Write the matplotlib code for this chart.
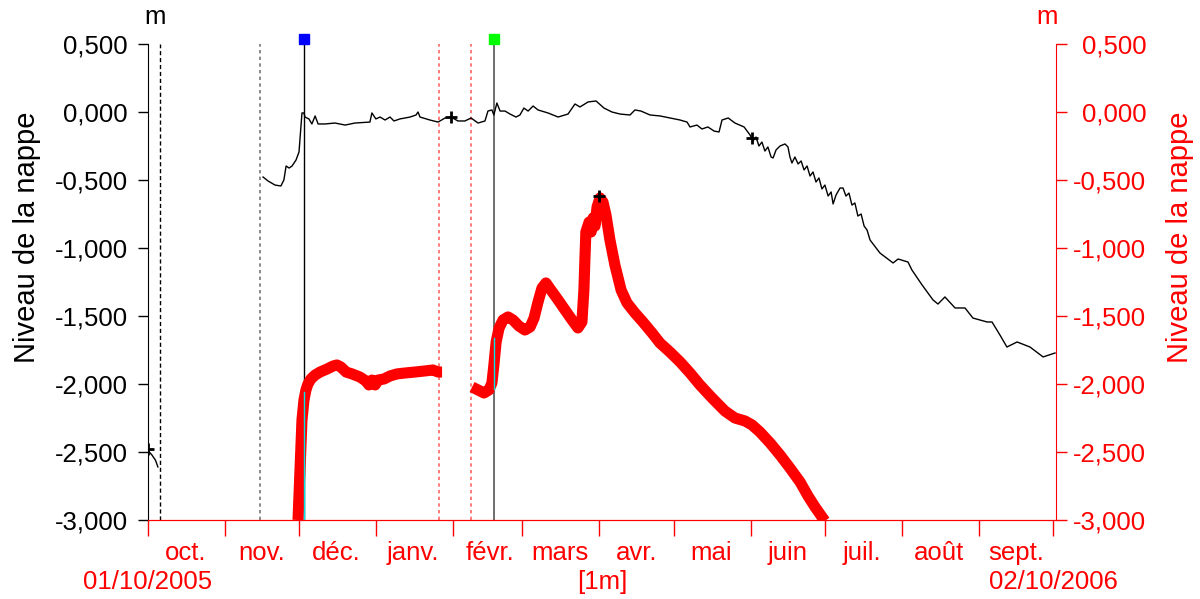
import datetime as dt
import matplotlib
matplotlib.use("Agg")
import matplotlib.pyplot as plt
import matplotlib.dates as mdates
from matplotlib.ticker import FuncFormatter, FixedLocator

plt.rcParams['font.family'] = ['Liberation Sans', 'DejaVu Sans']

start = dt.datetime(2005, 10, 1)

# piezometre 1 (axe gauche) : jours depuis le 01/10/2005, niveau en m
p1a_days = [0, 1.5, 3, 4]
p1a_level = [-2.49, -2.52, -2.56, -2.61]

p1b_days = [46.4, 48.4, 51.2, 53.6, 54.8, 55.7, 56.9, 58.1, 59.7, 60.9, 61.7, 62.1, 62.9,
            63.3, 64.9, 66.1, 67.4, 68.6, 71.4, 75.4, 79.5, 83.5, 89.5, 90.3, 91.9, 93.6,
            95.6, 97.6, 99.2, 101.6, 105.7, 108.1, 108.9, 109.7, 113.7, 117.0, 119.8, 122.2,
            125.0, 127.8, 130.3, 133.1, 135.9, 137.1, 138.7, 139.5, 140.7, 142.0, 144.0,
            146.0, 148.4, 150.0, 151.6, 153.3, 155.3, 157.3, 161.3, 165.4, 169.4, 172.2,
            174.2, 177.5, 180.7, 183.9, 187.1, 190.4, 194.4, 196.4, 198.8, 202.5, 206.5,
            210.5, 214.6, 217.4, 218.6, 221.4, 223.4, 225.8, 228.3, 230.3, 231.5, 234.0,
            236.7, 240.4, 242.8, 244.0, 245.2, 246.4, 247.6, 248.8, 250.0, 251.3, 252.1,
            253.3, 254.9, 256.9, 258.1, 258.9, 259.7, 260.9, 262.2, 263.4, 264.6, 265.8,
            267.0, 268.2, 269.4, 270.6, 271.8, 273.0, 274.3, 275.5, 276.3, 277.5, 279.1,
            280.3, 281.5, 282.7, 283.9, 285.1, 286.3, 287.6, 288.8, 290.0, 291.2, 295.2,
            300.5, 302.5, 306.5, 308.1, 312.2, 316.6, 318.6, 321.4, 325.5, 329.5, 332.7,
            338.4, 340.4, 343.6, 346.4, 350.5, 355.7, 361.0, 365.8]
p1b_level = [-0.478, -0.507, -0.537, -0.544, -0.50, -0.397, -0.412, -0.397, -0.353, -0.294,
             -0.096, -0.007, -0.007, -0.037, -0.051, -0.088, -0.029, -0.088, -0.088, -0.081,
             -0.096, -0.081, -0.074, -0.007, -0.051, -0.037, -0.059, -0.037, -0.066, -0.051,
             -0.037, -0.022, 0.000, -0.037, -0.059, -0.074, -0.044, -0.037, -0.066, -0.066,
             -0.044, -0.081, -0.066, 0.007, 0.015, -0.022, 0.066, 0.007, 0.007, -0.015,
             -0.037, -0.022, 0.029, 0.007, 0.044, 0.015, -0.007, -0.037, -0.015, 0.059,
             0.037, 0.074, 0.081, 0.029, 0.000, -0.015, -0.022, 0.015, 0.007, -0.022, -0.029,
             -0.044, -0.059, -0.074, -0.110, -0.096, -0.125, -0.110, -0.140, -0.147, -0.059,
             -0.044, -0.081, -0.110, -0.169, -0.213, -0.184, -0.250, -0.221, -0.287, -0.257,
             -0.331, -0.338, -0.279, -0.250, -0.235, -0.257, -0.331, -0.375, -0.331, -0.382,
             -0.360, -0.426, -0.397, -0.471, -0.441, -0.515, -0.485, -0.566, -0.537, -0.618,
             -0.588, -0.676, -0.610, -0.559, -0.559, -0.618, -0.596, -0.684, -0.669, -0.765,
             -0.750, -0.838, -0.868, -0.941, -1.037, -1.110, -1.081, -1.103, -1.162, -1.272,
             -1.382, -1.412, -1.360, -1.441, -1.441, -1.515, -1.544, -1.544, -1.640, -1.728,
             -1.691, -1.728, -1.801, -1.772]

# piezometre 2 (axe droit)
p2a_days = [60.5, 60.9, 61.3, 61.7, 62.1, 62.9, 63.7, 64.5, 65.7, 67.4, 69.4, 72.2, 74.6,
            76.2, 77.8, 79.9, 82.3, 85.5, 87.9, 89.1, 90.3, 91.6, 92.8, 95.2, 97.6, 100.4,
            103.7, 107.7, 111.7, 114.9, 117.0, 118.6]
p2a_level = [-3.0, -2.816, -2.632, -2.449, -2.265, -2.118, -2.044, -2.0, -1.963, -1.934,
             -1.912, -1.890, -1.868, -1.860, -1.875, -1.912, -1.926, -1.949, -1.978, -2.007,
             -1.971, -2.007, -1.971, -1.963, -1.941, -1.926, -1.919, -1.912, -1.904, -1.897,
             -1.912, -1.912]

p2b_days = [130.7, 133.1, 135.5, 137.5, 138.7, 139.5, 140.4, 141.6, 143.2, 145.2, 147.2,
            149.6, 152.0, 154.1, 155.7, 157.3, 158.9, 160.5, 162.5, 165.4, 168.2, 171.0,
            173.4, 175.0, 175.8, 176.2, 176.6, 177.9, 178.7, 179.5, 180.3, 181.1, 182.3,
            183.5, 184.7, 186.3, 188.3, 190.8, 193.2, 196.4, 199.6, 203.3, 206.5, 210.5,
            214.6, 218.6, 222.6, 227.5, 232.7, 236.7, 240.8, 243.6, 246.8, 250.9, 254.9,
            258.9, 263.0, 266.2, 269.0, 271.0, 273.0]
p2b_level = [-2.022, -2.044, -2.066, -2.044, -1.993, -1.860, -1.691, -1.588, -1.529, -1.507,
             -1.529, -1.574, -1.603, -1.581, -1.515, -1.397, -1.294, -1.257, -1.309, -1.382,
             -1.456, -1.529, -1.588, -1.544, -1.309, -1.088, -0.882, -0.809, -0.882, -0.779,
             -0.838, -0.699, -0.632, -0.662, -0.757, -0.941, -1.125, -1.309, -1.404, -1.478,
             -1.544, -1.625, -1.699, -1.765, -1.838, -1.919, -2.007, -2.103, -2.199, -2.250,
             -2.272, -2.301, -2.353, -2.434, -2.522, -2.618, -2.721, -2.824, -2.904, -2.956,
             -3.007]

# reperes verticaux (jours)
gap_black_day = 5.0
gap_gray_day = 45.2
gap_red_days = [117.4, 130.3]
event_blue_day = 62.9
event_green_day = 139.5

# points marques (+)
cross_days = [0, 122.2, 243.5, 182.0]
cross_level = [-2.48, -0.037, -0.19, -0.62]

months = ['oct.', 'nov.', 'déc.', 'janv.', 'févr.', 'mars', 'avr.', 'mai', 'juin',
          'juil.', 'août', 'sept.']
yticks = [0.5, 0.0, -0.5, -1.0, -1.5, -2.0, -2.5, -3.0]


def to_dates(days):
    return [start + dt.timedelta(days=d) for d in days]


def fr_fmt(v, pos):
    s = f"{v:.3f}".replace('.', ',')
    if s == "-0,000":
        s = "0,000"
    return s


fig = plt.figure(figsize=(12, 5.99), dpi=100)
ax = fig.add_axes([148 / 1200, 79 / 599, 908 / 1200, 476 / 599])
ax2 = ax.twinx()

x0 = start
x1 = start + dt.timedelta(days=366.2)
for a in (ax, ax2):
    a.set_xlim(x0, x1)
    a.set_ylim(-3.0, 0.5)

red = '#ff0000'
fs = 18.5
fs_lab = 21

# lignes verticales
ax.axvline(to_dates([gap_black_day])[0], color='black', lw=1, ls=(0, (3, 2)))
ax.axvline(to_dates([gap_gray_day])[0], color='#777777', lw=1.2, ls=(0, (2, 2)))
for d in gap_red_days:
    ax.axvline(to_dates([d])[0], color='#ff6666', lw=1.2, ls=(0, (2, 2)))
ax.axvline(to_dates([event_blue_day])[0], color='black', lw=1)
ax.axvline(to_dates([event_green_day])[0], color='#555555', lw=1.2)
ax.plot(to_dates([event_blue_day]), [0.537], 's', color='#0000ff', ms=7, clip_on=False)
ax.plot(to_dates([event_green_day]), [0.537], 's', color='#00ff00', ms=7, clip_on=False)

# courbe noire
ax.plot(to_dates(p1a_days), p1a_level, color='black', lw=1)
ax.plot(to_dates(p1b_days), p1b_level, color='black', lw=1)

# courbe rouge epaisse
ax2.plot(to_dates(p2a_days), p2a_level, color=red, lw=8, solid_capstyle='butt')
ax2.plot(to_dates(p2b_days), p2b_level, color=red, lw=8, solid_capstyle='butt')
ax2.plot(to_dates([event_blue_day, event_blue_day]), [-2.06, -3.0], color='#00e5e5', lw=1)
ax2.plot(to_dates([event_green_day, event_green_day]), [-1.66, -2.04], color='#00e5e5', lw=1)

ax2.plot(to_dates(cross_days), cross_level, '+', color='black', ms=9, mew=2, ls='none')

# axes
for a in (ax, ax2):
    a.spines['top'].set_visible(False)
ax.spines['left'].set_color('black')
ax.spines['right'].set_visible(False)
ax2.spines['left'].set_visible(False)
ax2.spines['right'].set_color(red)
ax2.spines['bottom'].set_color(red)
ax.spines['bottom'].set_color(red)

ax.yaxis.set_major_locator(FixedLocator(yticks))
ax.yaxis.set_major_formatter(FuncFormatter(fr_fmt))
ax.tick_params(axis='y', direction='out', length=7.5, width=1, colors='black',
               labelsize=fs, pad=7)
ax2.yaxis.set_major_locator(FixedLocator(yticks))
ax2.yaxis.set_major_formatter(FuncFormatter(fr_fmt))
ax2.tick_params(axis='y', direction='out', length=8, width=1, colors=red,
                labelsize=fs, pad=57)
for lab in ax2.get_yticklabels():
    lab.set_horizontalalignment('right')

month_starts = [dt.datetime(2005 + (9 + i) // 12, (9 + i) % 12 + 1, 1) for i in range(13)]
month_mids = [m + dt.timedelta(days=15) for m in month_starts[:-1]]
ax.xaxis.set_major_locator(FixedLocator(mdates.date2num(month_starts)))
ax.xaxis.set_major_formatter(FuncFormatter(lambda v, p: ''))
ax.xaxis.set_minor_locator(FixedLocator(mdates.date2num(month_mids)))
ax.xaxis.set_minor_formatter(FuncFormatter(lambda v, p: months[p] if p < len(months) else ''))
ax.tick_params(axis='x', which='major', direction='out', length=11.5, width=1, colors=red)
ax.tick_params(axis='x', which='minor', length=0, colors=red, labelsize=fs, pad=15)
ax2.tick_params(axis='x', which='both', length=0, labelbottom=False)

# titres des axes verticaux
label_y = 1 - 237 / 599
ax.set_ylabel('Niveau de la nappe', fontsize=fs_lab, color='black', va='center')
ax.yaxis.set_label_coords(27 / 1200, label_y, transform=fig.transFigure)
ax2.set_ylabel('Niveau de la nappe', fontsize=fs_lab, color=red, rotation=90, va='center')
ax2.yaxis.set_label_coords(1180 / 1200, label_y, transform=fig.transFigure)

fig.text(155 / 1200, 1 - 17 / 599, 'm', fontsize=fs, color='black', ha='center', va='center')
fig.text(1047 / 1200, 1 - 17 / 599, 'm', fontsize=fs, color=red, ha='center', va='center')
fig.text(148 / 1200, 1 - 582 / 599, '01/10/2005', fontsize=fs, color=red, ha='center', va='center')
fig.text(1053 / 1200, 1 - 582 / 599, '02/10/2006', fontsize=fs, color=red, ha='center', va='center')
fig.text(602 / 1200, 1 - 582 / 599, '[1m]', fontsize=fs, color=red, ha='center', va='center')

fig.savefig('out.png', dpi=100, facecolor='white')
